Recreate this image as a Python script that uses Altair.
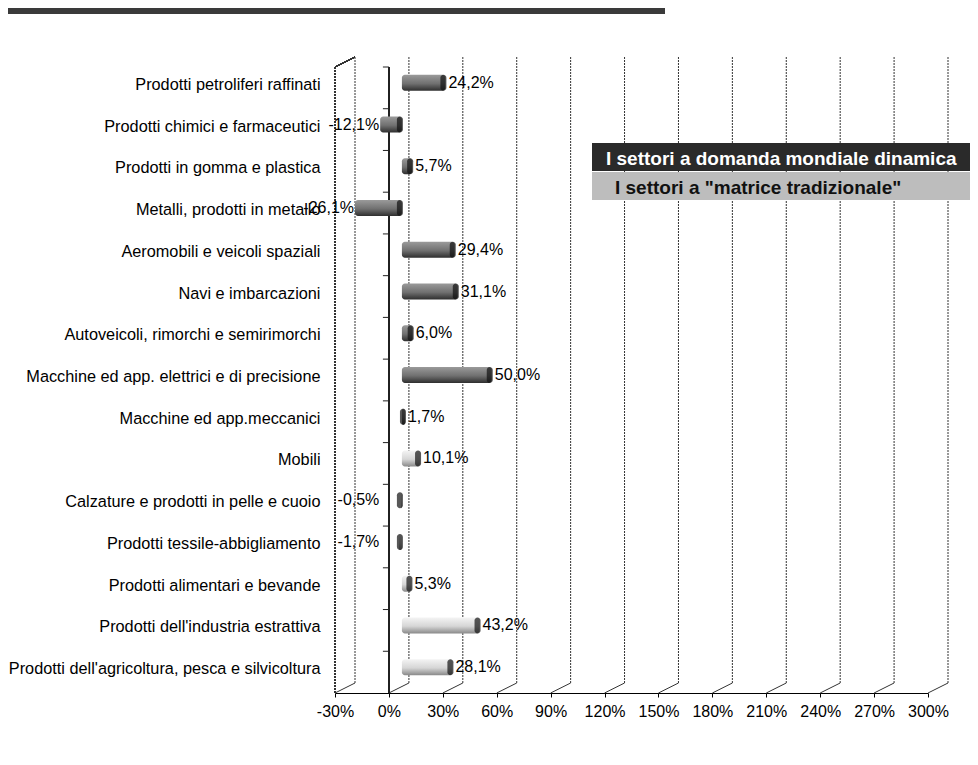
import altair as alt
import pandas as pd

categories = [
    "Prodotti petroliferi raffinati",
    "Prodotti chimici e farmaceutici",
    "Prodotti in gomma e plastica",
    "Metalli,  prodotti in metallo",
    "Aeromobili e veicoli spaziali",
    "Navi e imbarcazioni",
    "Autoveicoli, rimorchi e semirimorchi",
    "Macchine ed app. elettrici e di precisione",
    "Macchine ed app.meccanici",
    "Mobili",
    "Calzature e prodotti in pelle e cuoio",
    "Prodotti tessile-abbigliamento",
    "Prodotti alimentari e bevande",
    "Prodotti dell'industria estrattiva",
    "Prodotti dell'agricoltura, pesca e silvicoltura",
]
values = [24.2, -12.1, 5.7, -26.1, 29.4, 31.1, 6.0, 50.0, 1.7, 10.1, -0.5, -1.7, 5.3, 43.2, 28.1]
groups = ["dinamica"] * 9 + ["tradizionale"] * 6
x_ticks = [-30, 0, 30, 60, 90, 120, 150, 180, 210, 240, 270, 300]
legend_labels = ['I settori a domanda mondiale  dinamica', 'I settori a "matrice tradizionale"']

W, H = 593, 626
DX, DY = 20, -10          # depth offset of the back wall
BX, BY = 13, -5           # depth offset of the bars
FONT = "Liberation Sans"

df = pd.DataFrame({"cat": categories, "v": values, "g": groups})
df["lab"] = df["v"].map(lambda v: f"{v:.1f}".replace(".", ",") + "%")
df["cap"] = df["v"].clip(lower=0)
df["lx"] = df["v"].clip(upper=-12)
ticks_df = pd.DataFrame({"t": x_ticks})

xscale = alt.Scale(domain=[-30, 300], nice=False, zero=False)
X = alt.X("v:Q", scale=xscale, stack=None, axis=alt.Axis(
    values=x_ticks, labelExpr="datum.value + '%'", title=None, grid=False,
    domainColor="#000", tickColor="#000", tickSize=4, labelPadding=6,
    labelFontSize=16, labelFont=FONT, labelColor="#000", labelFlush=False))
Y = alt.Y("cat:N", sort=categories, title=None,
          scale=alt.Scale(paddingInner=0, paddingOuter=0),
          axis=alt.Axis(domain=False, ticks=False, labelPadding=15, labelFontSize=16.3,
                        labelFont=FONT, labelColor="#000", labelLimit=400, labelOffset=-3))

base = alt.Chart(df)

# back-wall gridlines
grid = alt.Chart(ticks_df).mark_rule(
    xOffset=DX, yOffset=DY, y2Offset=DY, color="#333", strokeWidth=1, strokeDash=[2, 1]
).encode(x=alt.X("t:Q", scale=xscale), y=alt.value(0), y2=alt.value(H))

# floor diagonals
floor = alt.Chart(ticks_df).mark_rule(
    x2Offset=DX, y2Offset=DY, color="#333", strokeWidth=1
).encode(x="t:Q", x2="t", y=alt.value(H), y2=alt.value(H))

# left wall front edge and top diagonal
left_edge = base.mark_rule(color="#333", strokeWidth=1, strokeDash=[2, 1]).encode(
    x=alt.datum(-30), y=alt.value(0), y2=alt.value(H))
left_top = base.mark_rule(x2Offset=DX, y2Offset=DY, color="#333").encode(
    x=alt.datum(-30), x2=alt.datum(-30), y=alt.value(0), y2=alt.value(0))

# category axis at 0
cat_axis = base.mark_rule(color="#222").encode(
    x=alt.datum(0), y=alt.value(0), y2=alt.value(H))
cat_ticks = base.mark_rule(x2Offset=-6, color="#222").encode(
    x=alt.datum(0), x2=alt.datum(0), y=alt.Y("cat:N", sort=categories, bandPosition=0))

dark_grad = alt.LinearGradient(gradient="linear", x1=0, x2=0, y1=0, y2=1, stops=[
    alt.GradientStop(color="#9a9a9a", offset=0),
    alt.GradientStop(color="#707070", offset=0.55),
    alt.GradientStop(color="#2e2e2e", offset=1)])
light_grad = alt.LinearGradient(gradient="linear", x1=0, x2=0, y1=0, y2=1, stops=[
    alt.GradientStop(color="#f4f4f4", offset=0),
    alt.GradientStop(color="#d6d6d6", offset=0.55),
    alt.GradientStop(color="#8a8a8a", offset=1)])

bars_dark = base.transform_filter(alt.datum.g == "dinamica").mark_bar(
    size=16, xOffset=BX, x2Offset=BX, yOffset=BY, y2Offset=BY, cornerRadius=3, color=dark_grad
).encode(x=X, x2=alt.datum(0), y=Y)
bars_light = base.transform_filter(alt.datum.g == "tradizionale").mark_bar(
    size=16, xOffset=BX, x2Offset=BX, yOffset=BY, y2Offset=BY, cornerRadius=3, color=light_grad
).encode(x=X, x2=alt.datum(0), y=Y)

caps = base.mark_tick(thickness=6, size=16, cornerRadius=3, color="#111",
                      xOffset=BX - 2, yOffset=BY).encode(x="cap:Q", y=Y)

lab_pos = base.transform_filter(alt.datum.v >= 0).mark_text(
    align="left", baseline="middle", dx=BX + 3, yOffset=BY, fontSize=16, font=FONT, color="#000"
).encode(x="v:Q", y=Y, text="lab:N")
lab_neg = base.transform_filter(alt.datum.v < 0).mark_text(
    align="right", baseline="middle", dx=12, yOffset=BY, fontSize=16, font=FONT, color="#000"
).encode(x="lx:Q", y=Y, text="lab:N")

# legend boxes
leg_df = pd.DataFrame({"lab": legend_labels})
leg1_box = alt.Chart(leg_df).mark_rect(color="#2a2a2a").encode(
    x=alt.value(257), x2=alt.value(640), y=alt.value(76), y2=alt.value(104))
leg2_box = alt.Chart(leg_df).mark_rect(color="#bdbdbd").encode(
    x=alt.value(257), x2=alt.value(640), y=alt.value(105), y2=alt.value(133))
leg1_txt = alt.Chart(leg_df).transform_filter(alt.datum.lab == legend_labels[0]).mark_text(
    align="left", baseline="alphabetic", fontSize=19, fontWeight="bold", font=FONT, color="#fff"
).encode(x=alt.value(271), y=alt.value(98), text="lab:N")
leg2_txt = alt.Chart(leg_df).transform_filter(alt.datum.lab == legend_labels[1]).mark_text(
    align="left", baseline="alphabetic", fontSize=19, fontWeight="bold", font=FONT, color="#111"
).encode(x=alt.value(280), y=alt.value(127), text="lab:N")

# top band (cropped title bar of the original)
top_band = alt.Chart(leg_df.head(1)).mark_rect(color="#3a3a3a").encode(
    x=alt.value(-327), x2=alt.value(330), y=alt.value(-59), y2=alt.value(-53))

chart = alt.layer(
    grid, floor, left_edge, left_top, cat_axis, cat_ticks,
    bars_dark, bars_light, caps, lab_pos, lab_neg,
    leg1_box, leg2_box, leg1_txt, leg2_txt, top_band
).properties(
    width=W, height=H,
    autosize=alt.AutoSizeParams(type="none"),
    padding={"left": 327, "top": 59, "right": 42, "bottom": 64},
    background="#ffffff",
).configure_view(stroke=None)

chart.save("out.html", embed_options={"renderer": "svg", "actions": False})
